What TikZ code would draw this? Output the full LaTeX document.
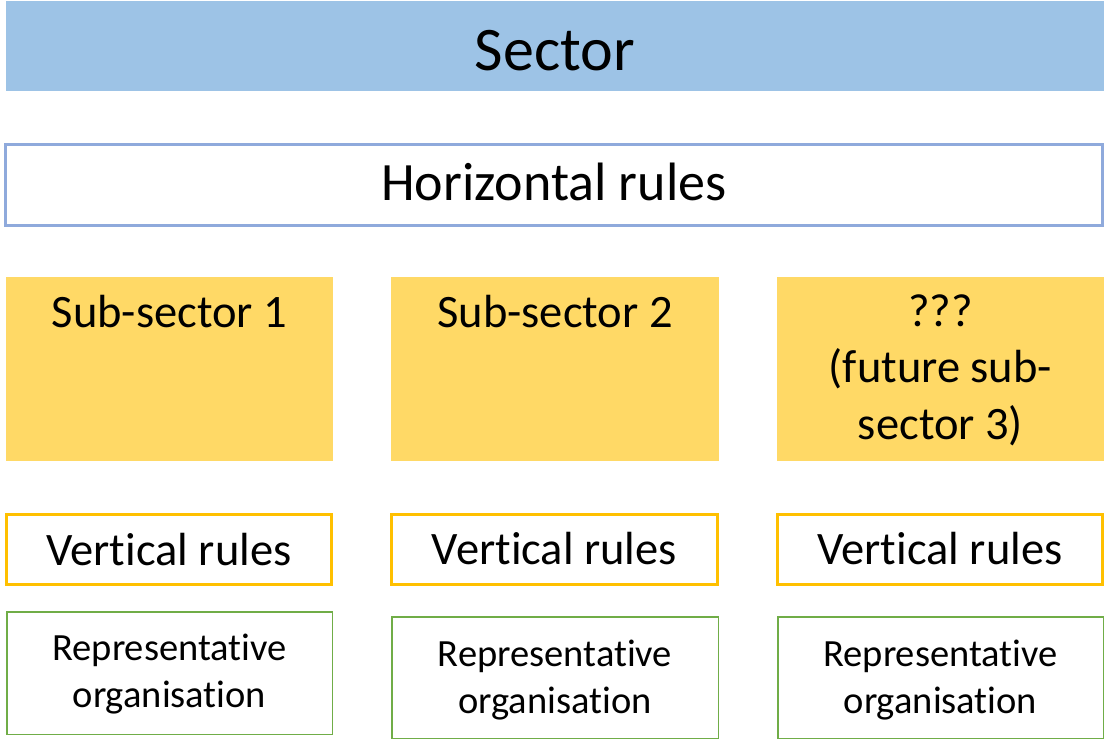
\documentclass[tikz,border=0pt]{standalone}
\usepackage{fontspec}
\setmainfont{Carlito}[Ligatures=NoCommon]
\definecolor{sectorblue}{HTML}{9DC3E6}
\definecolor{hrblue}{HTML}{8FAADC}
\definecolor{subyellow}{HTML}{FFD966}
\definecolor{vrorange}{HTML}{FFC000}
\definecolor{rogreen}{HTML}{70AD47}
\begin{document}
\begin{tikzpicture}[x=1pt,y=-1pt,
  box/.style={rectangle, inner sep=0pt, outer sep=0pt, anchor=north west},
  sectorbox/.style={box, fill=sectorblue, minimum width=1098pt, minimum height=90pt},
  hrbox/.style={box, draw=hrblue, line width=3pt, minimum width=1097pt, minimum height=81pt},
  subbox/.style={box, fill=subyellow, minimum height=184pt},
  vrbox/.style={box, draw=vrorange, line width=3pt, minimum height=70pt},
  robox/.style={box, draw=rogreen, line width=1.5pt},
  txt/.style={anchor=base, inner sep=0pt, outer sep=0pt, align=center},
  bigtxt/.style={txt, font=\fontsize{46.5}{56.5}\selectfont},
  smalltxt/.style={txt, font=\fontsize{38.5}{47}\selectfont}
]
\useasboundingbox (0,0) rectangle (1104,740);

% Sector
\node[sectorbox] (sector) at (6,1) {};
\node[txt, font=\fontsize{62}{74}\selectfont] (sectorT) at ([yshift=-69pt]sector.north) {Sector};

% Horizontal rules
\node[hrbox] (hr) at (5.5,144.5) {};
\node[txt, font=\fontsize{54}{64}\selectfont] (hrT) at ([yshift=-55.5pt]hr.north) {Horizontal rules};

% Sub-sectors
\node[subbox, minimum width=327pt] (sub1) at (6,277) {};
\node[subbox, minimum width=328pt] (sub2) at (391,277) {};
\node[subbox, minimum width=327pt] (sub3) at (777,277) {};
\node[bigtxt] (sub1T) at ([yshift=-50.5pt]sub1.north) {Sub-sector 1};
\node[bigtxt] (sub2T) at ([yshift=-50.5pt]sub2.north) {Sub-sector 2};
\node[bigtxt] (sub3T) at ([yshift=-162pt]sub3.north) {???\\(future sub-\\sector 3)};

% Vertical rules
\node[vrbox, minimum width=325pt] (vr1) at (6.5,514.5) {};
\node[vrbox, minimum width=326pt] (vr2) at (391.5,514.5) {};
\node[vrbox, minimum width=325pt] (vr3) at (777.5,514.5) {};
\node[bigtxt] (vr1T) at ([yshift=-50.5pt]vr1.north) {Vertical rules};
\node[bigtxt] (vr2T) at ([yshift=-50pt]vr2.north) {Vertical rules};
\node[bigtxt] (vr3T) at ([yshift=-49.5pt]vr3.north) {Vertical rules};

% Representative organisations
\node[robox, minimum width=325.5pt, minimum height=122.5pt] (ro1) at (6.75,611.75) {};
\node[robox, minimum width=326.5pt, minimum height=121.5pt] (ro2) at (391.75,616.75) {};
\node[robox, minimum width=325.5pt, minimum height=121.5pt] (ro3) at (777.75,616.75) {};
\node[smalltxt] (ro1T) at ([yshift=-96pt]ro1.north) {Representative\\organisation};
\node[smalltxt] (ro2T) at ([yshift=-96.5pt]ro2.north) {Representative\\organisation};
\node[smalltxt] (ro3T) at ([yshift=-96.5pt]ro3.north) {Representative\\organisation};
\end{tikzpicture}
\end{document}
